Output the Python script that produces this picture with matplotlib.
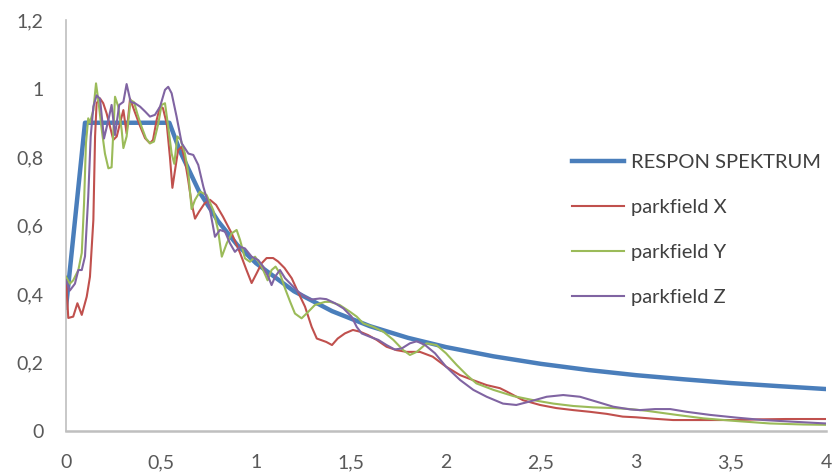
import matplotlib
matplotlib.use("Agg")
import matplotlib.pyplot as plt

# ---- data ----
resp_x = [0.0, 0.1, 0.544, 0.6, 0.7, 0.8, 0.9, 1.0, 1.2, 1.4, 1.6, 1.8, 2.0, 2.25, 2.5, 2.75, 3.0, 3.25, 3.5, 3.75, 4.0]
resp_y = [0.36, 0.9, 0.9, 0.817, 0.700, 0.613, 0.544, 0.49, 0.408, 0.350, 0.306, 0.272, 0.245, 0.218, 0.196, 0.178, 0.163, 0.151, 0.140, 0.131, 0.1225]

x_x = [0.0, 0.012, 0.038, 0.06, 0.083, 0.109, 0.126, 0.144, 0.153, 0.161, 0.179, 0.196, 0.214, 0.232, 0.249,
       0.267, 0.284, 0.302, 0.319, 0.337, 0.363, 0.39, 0.416, 0.442, 0.458, 0.477, 0.495, 0.51, 0.53, 0.547,
       0.56, 0.574, 0.59, 0.609, 0.626, 0.643, 0.661, 0.679, 0.70, 0.73, 0.758, 0.79, 0.826, 0.872, 0.916,
       0.95, 0.977, 1.003, 1.03, 1.056, 1.09, 1.116, 1.15, 1.188, 1.22, 1.258, 1.293, 1.32, 1.37, 1.40, 1.43,
       1.468, 1.51, 1.547, 1.59, 1.635, 1.687, 1.74, 1.793, 1.863, 1.93, 2.0, 2.074, 2.14, 2.214, 2.284, 2.32,
       2.405, 2.495, 2.58, 2.67, 2.758, 2.846, 2.93, 3.0, 3.09, 3.195, 3.35, 3.53, 3.65, 3.79, 4.0]
x_y = [0.45, 0.33, 0.334, 0.373, 0.339, 0.392, 0.45, 0.616, 0.86, 0.957, 0.971, 0.957, 0.927, 0.888, 0.85,
       0.86, 0.898, 0.937, 0.869, 0.97, 0.93, 0.89, 0.855, 0.84, 0.85, 0.908, 0.947, 0.943, 0.898, 0.80,
       0.71, 0.762, 0.82, 0.83, 0.79, 0.733, 0.665, 0.62, 0.64, 0.665, 0.675, 0.66, 0.626, 0.577, 0.52,
       0.47, 0.432, 0.46, 0.49, 0.505, 0.505, 0.495, 0.476, 0.446, 0.407, 0.363, 0.304, 0.27, 0.26, 0.251, 0.27,
       0.285, 0.295, 0.29, 0.28, 0.266, 0.246, 0.236, 0.231, 0.231, 0.217, 0.188, 0.163, 0.149, 0.134, 0.125, 0.115,
       0.09, 0.076, 0.067, 0.061, 0.056, 0.05, 0.042, 0.04, 0.036, 0.032, 0.032, 0.032, 0.034, 0.035, 0.035]

y_x = [0.0, 0.02, 0.038, 0.065, 0.083, 0.095, 0.105, 0.117, 0.126, 0.144, 0.158, 0.17, 0.188, 0.205, 0.223,
       0.24, 0.258, 0.275, 0.293, 0.302, 0.319, 0.34, 0.358, 0.375, 0.398, 0.421, 0.442, 0.463, 0.486, 0.503,
       0.521, 0.538, 0.556, 0.57, 0.586, 0.604, 0.626, 0.644, 0.661, 0.679, 0.705, 0.74, 0.775, 0.80, 0.82,
       0.846, 0.872, 0.898, 0.916, 0.942, 0.968, 0.995, 1.03, 1.061, 1.082, 1.103, 1.126, 1.153, 1.18, 1.205,
       1.24, 1.275, 1.31, 1.363, 1.39, 1.44, 1.495, 1.53, 1.565, 1.617, 1.67, 1.723, 1.775, 1.81, 1.846, 1.898,
       1.95, 2.0, 2.056, 2.11, 2.16, 2.25, 2.354, 2.46, 2.565, 2.67, 2.775, 2.88, 2.97, 3.056, 3.214, 3.354,
       3.53, 3.705, 3.88, 4.0]
y_y = [0.45, 0.43, 0.44, 0.47, 0.52, 0.665, 0.84, 0.913, 0.90, 0.937, 1.015, 0.966, 0.88, 0.81, 0.767,
       0.77, 0.976, 0.947, 0.879, 0.826, 0.86, 0.966, 0.96, 0.927, 0.888, 0.854, 0.84, 0.845, 0.898, 0.952,
       0.957, 0.888, 0.81, 0.78, 0.86, 0.85, 0.81, 0.752, 0.648, 0.675, 0.699, 0.689, 0.645, 0.587, 0.509,
       0.548, 0.577, 0.587, 0.558, 0.504, 0.494, 0.509, 0.48, 0.44, 0.47, 0.48, 0.46, 0.416, 0.377, 0.343,
       0.329, 0.348, 0.368, 0.377, 0.377, 0.368, 0.348, 0.334, 0.314, 0.304, 0.29, 0.266, 0.236, 0.222, 0.231, 0.256,
       0.251, 0.227, 0.193, 0.163, 0.139, 0.12, 0.102, 0.09, 0.08, 0.073, 0.069, 0.067, 0.064, 0.059, 0.047, 0.037,
       0.029, 0.022, 0.019, 0.018]

z_x = [0.0, 0.02, 0.047, 0.065, 0.083, 0.1, 0.117, 0.13, 0.144, 0.161, 0.179, 0.2, 0.223, 0.24, 0.258,
       0.28, 0.302, 0.319, 0.34, 0.363, 0.39, 0.416, 0.442, 0.468, 0.495, 0.521, 0.538, 0.556, 0.582, 0.609,
       0.644, 0.67, 0.696, 0.723, 0.758, 0.784, 0.81, 0.837, 0.863, 0.889, 0.916, 0.942, 0.977, 1.012, 1.038,
       1.065, 1.082, 1.1, 1.126, 1.153, 1.188, 1.222, 1.258, 1.293, 1.337, 1.37, 1.416, 1.46, 1.503, 1.53,
       1.556, 1.6, 1.644, 1.687, 1.73, 1.767, 1.81, 1.846, 1.89, 1.942, 2.0, 2.074, 2.144, 2.214, 2.3, 2.37,
       2.44, 2.53, 2.617, 2.705, 2.79, 2.88, 2.97, 3.02, 3.1, 3.18, 3.267, 3.39, 3.53, 3.67, 3.83, 4.0]
z_y = [0.44, 0.41, 0.43, 0.47, 0.47, 0.51, 0.684, 0.86, 0.947, 0.98, 0.97, 0.854, 0.908, 0.952, 0.864,
       0.952, 0.961, 1.013, 0.961, 0.957, 0.947, 0.933, 0.918, 0.923, 0.947, 0.996, 1.005, 0.986, 0.918, 0.84,
       0.81, 0.806, 0.777, 0.713, 0.645, 0.567, 0.587, 0.582, 0.548, 0.523, 0.538, 0.533, 0.509, 0.499, 0.48,
       0.45, 0.426, 0.45, 0.47, 0.446, 0.426, 0.407, 0.392, 0.384, 0.387, 0.385, 0.373, 0.358, 0.334, 0.304,
       0.285, 0.275, 0.266, 0.251, 0.238, 0.241, 0.256, 0.262, 0.251, 0.227, 0.188, 0.149, 0.12, 0.1, 0.08, 0.076,
       0.086, 0.1, 0.105, 0.1, 0.086, 0.071, 0.063, 0.061, 0.064, 0.064, 0.056, 0.047, 0.039, 0.032, 0.027, 0.022]

x_ticks = [0, 0.5, 1, 1.5, 2, 2.5, 3, 3.5, 4]
x_tick_labels = ["0", "0,5", "1", "1,5", "2", "2,5", "3", "3,5", "4"]
y_ticks = [0, 0.2, 0.4, 0.6, 0.8, 1.0, 1.2]
y_tick_labels = ["0", "0,2", "0,4", "0,6", "0,8", "1", "1,2"]

labels = ["RESPON SPEKTRUM", "parkfield X", "parkfield Y", "parkfield Z"]
colors = ["#4A7EBB", "#C0504D", "#9BBB59", "#8064A2"]

plt.rcParams['font.family'] = ['Lato', 'DejaVu Sans']

fig = plt.figure(figsize=(8.37, 4.75), dpi=100)
ax = fig.add_axes([66/837, 1 - 431/475, (826 - 66)/837, (431 - 20)/475])

ax.plot(resp_x, resp_y, color=colors[0], lw=3.2, label=labels[0], zorder=2, solid_joinstyle='round')
ax.plot(x_x, x_y, color=colors[1], lw=1.5, label=labels[1], zorder=3)
ax.plot(y_x, y_y, color=colors[2], lw=1.5, label=labels[2], zorder=3)
ax.plot(z_x, z_y, color=colors[3], lw=1.5, label=labels[3], zorder=3)

ax.set_xlim(0, 4)
ax.set_ylim(0, 1.2)
ax.set_xticks(x_ticks)
ax.set_xticklabels(x_tick_labels)
ax.set_yticks(y_ticks)
ax.set_yticklabels(y_tick_labels)
ax.tick_params(axis='both', length=0, labelsize=14, labelcolor="#595959")
ax.tick_params(axis='x', pad=16.5)
ax.tick_params(axis='y', pad=16)
for s in ['top', 'right']:
    ax.spines[s].set_visible(False)
for s in ['left', 'bottom']:
    ax.spines[s].set_color("#BFBFBF")
ax.spines['left'].set_linewidth(1.2)
ax.spines['bottom'].set_linewidth(1.8)

leg = fig.legend(loc='upper left', bbox_to_anchor=(572/837, 1 - 154/475), bbox_transform=fig.transFigure,
                 frameon=False, fontsize=14.5, labelspacing=1.38, handlelength=2.6, handletextpad=0.35,
                 borderpad=0, borderaxespad=0)
for t in leg.get_texts():
    t.set_color("#404040")

fig.savefig("out.png", dpi=100)
